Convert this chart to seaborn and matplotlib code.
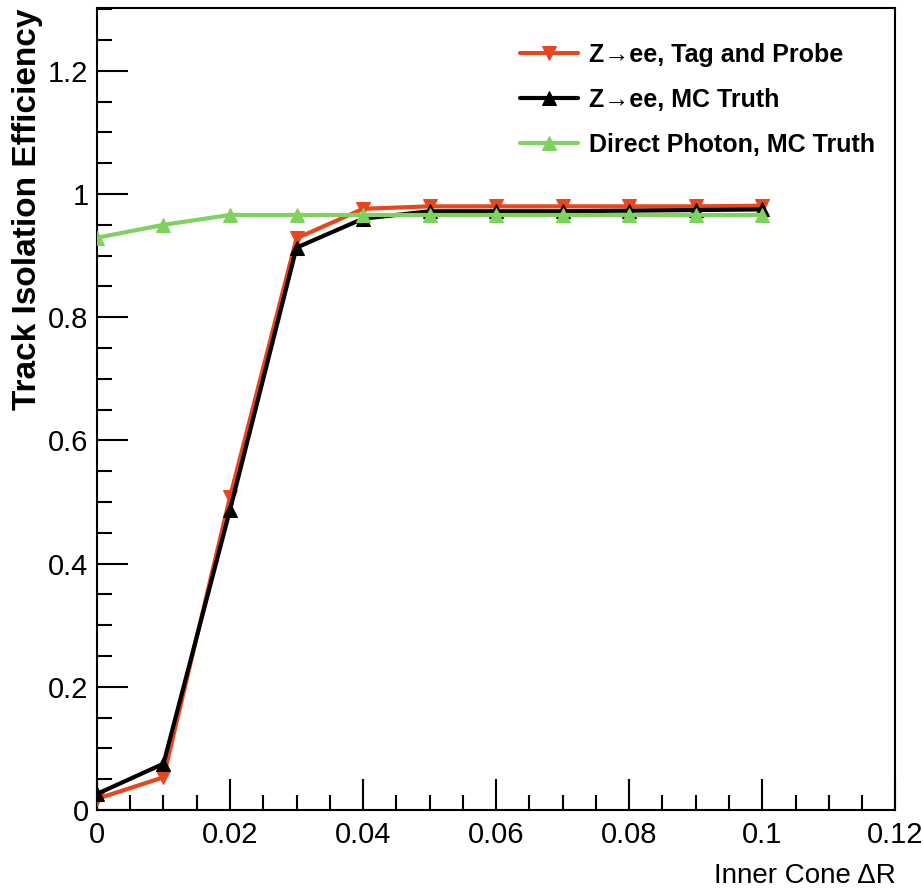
import matplotlib
matplotlib.use("Agg")
import matplotlib.pyplot as plt
import seaborn as sns
import pandas as pd
from matplotlib.ticker import MultipleLocator, FuncFormatter
from matplotlib import font_manager

cone_dr = [0.0, 0.01, 0.02, 0.03, 0.04, 0.05, 0.06, 0.07, 0.08, 0.09, 0.10]
tag_probe = [0.018, 0.053, 0.508, 0.928, 0.976, 0.980, 0.980, 0.980, 0.980, 0.980, 0.981]
mc_truth = [0.026, 0.075, 0.487, 0.913, 0.960, 0.972, 0.972, 0.972, 0.973, 0.974, 0.975]
photon_truth = [0.929, 0.950, 0.966, 0.966, 0.966, 0.966, 0.966, 0.966, 0.966, 0.966, 0.966]

labels = ["Z\u2192ee, Tag and Probe", "Z\u2192ee, MC Truth", "Direct Photon, MC Truth"]
colors = ["#e8461e", "#000000", "#7fd160"]
markers = ["v", "^", "^"]

sns.set_style("white")
avail = {f.name for f in font_manager.fontManager.ttflist}
fam = [f for f in ["Liberation Sans Narrow", "Liberation Sans", "DejaVu Sans"] if f in avail]
plt.rcParams["font.family"] = fam
plt.rcParams["text.color"] = "black"
plt.rcParams["axes.labelcolor"] = "black"
plt.rcParams["xtick.color"] = "black"
plt.rcParams["ytick.color"] = "black"

fig = plt.figure(figsize=(9.23, 8.92), dpi=100)
ax = fig.add_axes([0.105, 0.092, 0.865, 0.899])

series = [tag_probe, mc_truth, photon_truth]
for idx in [1, 0, 2]:
    df = pd.DataFrame({"x": cone_dr, "y": series[idx]})
    sns.lineplot(data=df, x="x", y="y", ax=ax, color=colors[idx], marker=markers[idx],
                 markersize=10, markeredgecolor=colors[idx], linewidth=3,
                 label=labels[idx], zorder=3 + idx)

h, l = ax.get_legend_handles_labels()
order = [l.index(t) for t in labels]
leg = ax.legend([h[i] for i in order], [l[i] for i in order], loc="upper right",
                bbox_to_anchor=(1.003, 0.985), frameon=False, handlelength=2.3,
                handletextpad=0.45, labelspacing=0.85,
                prop={"size": 18, "weight": "bold"})
for t in leg.get_texts():
    t.set_color("black")

ax.set_xlim(0, 0.12)
ax.set_ylim(0, 1.302)
ax.xaxis.set_major_locator(MultipleLocator(0.02))
ax.xaxis.set_minor_locator(MultipleLocator(0.005))
ax.yaxis.set_major_locator(MultipleLocator(0.2))
ax.yaxis.set_minor_locator(MultipleLocator(0.05))

def fmt(v, pos):
    s = f"{v:.2f}".rstrip("0").rstrip(".")
    return s if s != "-0" else "0"

ax.xaxis.set_major_formatter(FuncFormatter(fmt))
ax.yaxis.set_major_formatter(FuncFormatter(fmt))
ax.tick_params(axis="both", which="major", direction="in", length=22, width=1.5,
               labelsize=21, top=False, right=False, bottom=True, left=True,
               labelcolor="black", color="black")
ax.tick_params(axis="both", which="minor", direction="in", length=11, width=1.5,
               top=False, right=False, bottom=True, left=True, color="black")
ax.tick_params(axis="x", pad=8)
ax.tick_params(axis="y", pad=6)
for sp in ax.spines.values():
    sp.set_visible(True)
    sp.set_color("black")
    sp.set_linewidth(1.5)

ax.set_xlabel("Inner Cone \u0394R", fontsize=20, loc="right", labelpad=10, color="black")
ax.set_ylabel("Track Isolation Efficiency", fontsize=24, fontweight="bold", loc="top",
              labelpad=4, color="black")

fig.savefig("out.png", dpi=100)
